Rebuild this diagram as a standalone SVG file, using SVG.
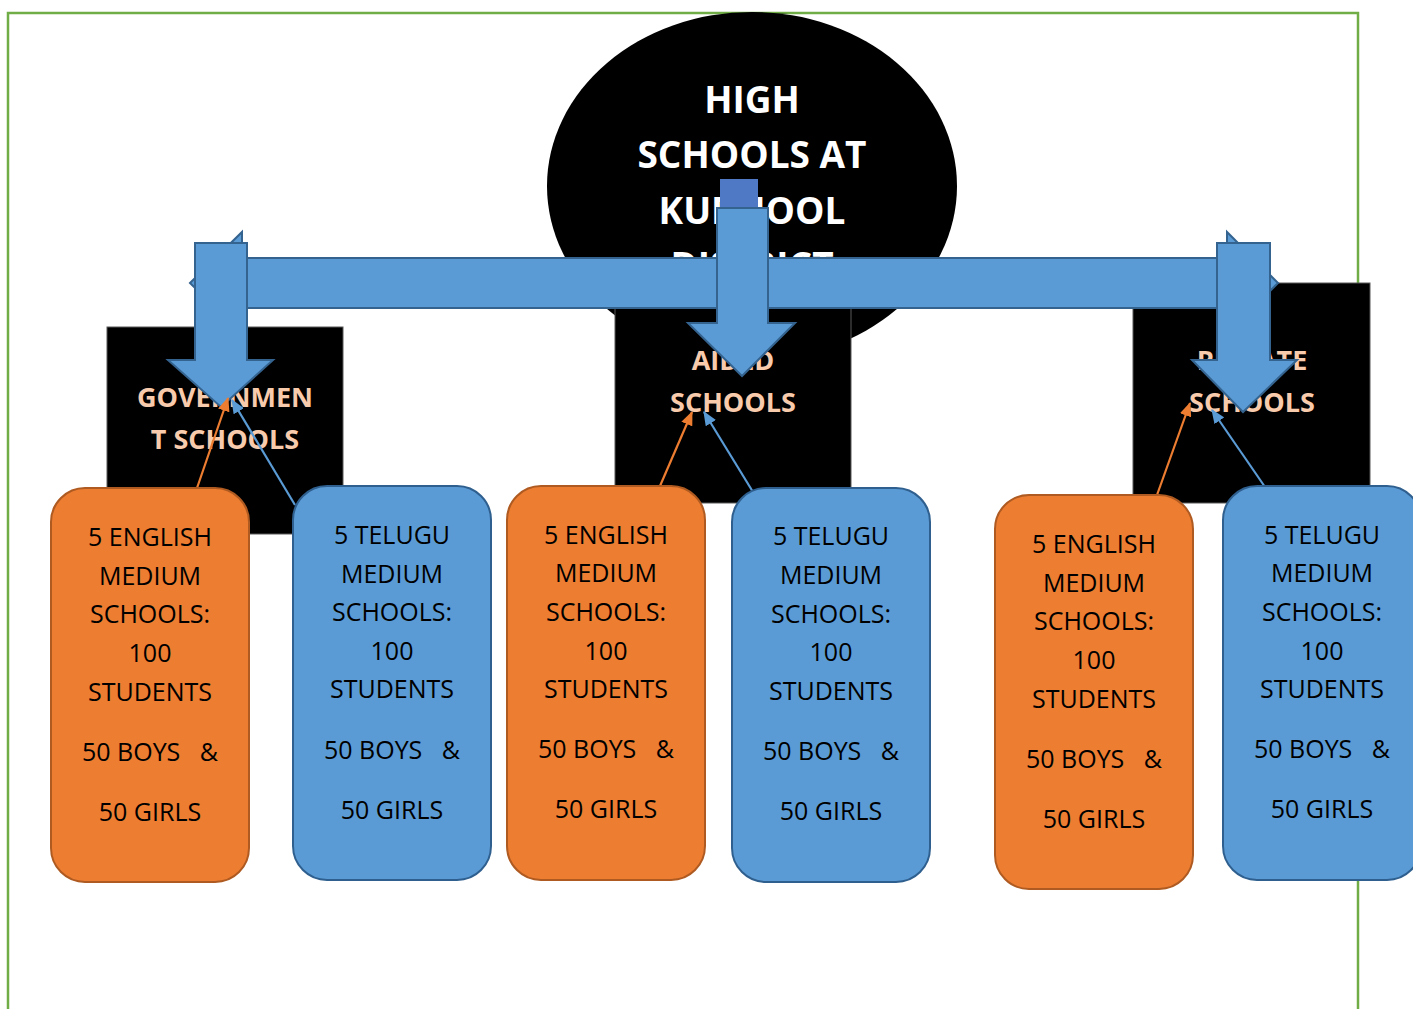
<svg xmlns="http://www.w3.org/2000/svg" width="1413" height="1009" viewBox="0 0 1413 1009">
<style>
.big{fill:#5b9bd5;stroke:#34638f;stroke-width:2;stroke-linejoin:miter}
.blk{fill:#000;stroke:#595959;stroke-width:1}
.cat{font-family:"Open Sans","Liberation Sans",sans-serif;font-weight:bold;font-size:27px;fill:#f8cbad;text-anchor:middle}
.title{font-family:"Open Sans","Liberation Sans",sans-serif;font-weight:bold;font-size:37px;fill:#fff;text-anchor:middle}
.ob{fill:#ed7d31;stroke:#ae5a21;stroke-width:2}
.bb{fill:#5b9bd5;stroke:#2e5f8e;stroke-width:2}
.t{font-family:"Open Sans","Liberation Sans",sans-serif;font-size:25px;fill:#000;text-anchor:middle}
.co{stroke:#ed7d31;stroke-width:2.2;fill:none}
.cb{stroke:#5b9bd5;stroke-width:2.2;fill:none}
</style>
<defs>
<marker id="ao" viewBox="0 0 12 10" refX="11" refY="5" markerWidth="6.5" markerHeight="5.4" orient="auto" markerUnits="strokeWidth"><path d="M0,0 L12,5 L0,10 z" fill="#ed7d31"/></marker>
<marker id="ab" viewBox="0 0 12 10" refX="11" refY="5" markerWidth="6.5" markerHeight="5.4" orient="auto" markerUnits="strokeWidth"><path d="M0,0 L12,5 L0,10 z" fill="#5b9bd5"/></marker>
</defs>
<rect width="1413" height="1009" fill="#fff"/>
<rect x="8" y="13" width="1350" height="1010" fill="none" stroke="#70ad47" stroke-width="2.5"/>

<g id="root">
<ellipse cx="752" cy="186" rx="205" ry="174" fill="#000"/>
<text class="title" x="752" y="113">HIGH</text>
<text class="title" x="752" y="168">SCHOOLS AT</text>
<text class="title" x="752" y="224">KURNOOL</text>
<text class="title" x="752" y="279">DISTRICT</text>
</g>

<g id="government">
<rect class="blk" x="107" y="327" width="236" height="207"/>
<text class="cat" x="225" y="407">GOVERNMEN</text>
<text class="cat" x="225" y="449">T SCHOOLS</text>
</g>
<g id="aided">
<rect class="blk" x="615" y="290" width="236" height="213"/>
<text class="cat" x="733" y="370">AIDED</text>
<text class="cat" x="733" y="412">SCHOOLS</text>
</g>
<g id="private">
<rect class="blk" x="1133" y="283" width="237" height="220"/>
<text class="cat" x="1252" y="370">PRIVATE</text>
<text class="cat" x="1252" y="412">SCHOOLS</text>
</g>

<g id="big-arrows">
<path class="big" d="M190,283 L242,232 L242,258 L1227,258 L1227,232 L1278,283 L1227,334 L1227,308 L242,308 L242,334 Z"/>
<rect x="720" y="179" width="38" height="30" fill="#4f79c4"/>
<path class="big" d="M717,208 L768,208 L768,323 L795,323 L742,376 L688,323 L717,323 Z"/>
<path class="big" d="M195,243 L247,243 L247,360 L273,360 L221,407 L168,360 L195,360 Z"/>
<path class="big" d="M1217,243 L1270,243 L1270,360 L1297,360 L1243,412 L1192,360 L1217,360 Z"/>
</g>

<g id="connectors">
<line class="co" x1="197" y1="488" x2="228" y2="398" marker-end="url(#ao)"/>
<line class="cb" x1="295" y1="505" x2="232" y2="400" marker-end="url(#ab)"/>
<line class="co" x1="660" y1="486" x2="692" y2="412" marker-end="url(#ao)"/>
<line class="cb" x1="753" y1="492" x2="704" y2="412" marker-end="url(#ab)"/>
<line class="co" x1="1157" y1="495" x2="1190" y2="403" marker-end="url(#ao)"/>
<line class="cb" x1="1265" y1="487" x2="1212" y2="410" marker-end="url(#ab)"/>
</g>

<g id="gov-english">
<rect class="ob" x="51" y="488" width="198" height="394" rx="34"/>
<text class="t" x="150" y="546">5 ENGLISH</text>
<text class="t" x="150" y="585">MEDIUM</text>
<text class="t" x="150" y="623">SCHOOLS:</text>
<text class="t" x="150" y="662">100</text>
<text class="t" x="150" y="701">STUDENTS</text>
<text class="t" x="150" y="761" xml:space="preserve">50 BOYS   &amp;</text>
<text class="t" x="150" y="821">50 GIRLS</text>
</g>
<g id="gov-telugu">
<rect class="bb" x="293" y="486" width="198" height="394" rx="34"/>
<text class="t" x="392" y="544">5 TELUGU</text>
<text class="t" x="392" y="583">MEDIUM</text>
<text class="t" x="392" y="621">SCHOOLS:</text>
<text class="t" x="392" y="660">100</text>
<text class="t" x="392" y="698">STUDENTS</text>
<text class="t" x="392" y="759" xml:space="preserve">50 BOYS   &amp;</text>
<text class="t" x="392" y="819">50 GIRLS</text>
</g>
<g id="aided-english">
<rect class="ob" x="507" y="486" width="198" height="394" rx="34"/>
<text class="t" x="606" y="544">5 ENGLISH</text>
<text class="t" x="606" y="582">MEDIUM</text>
<text class="t" x="606" y="621">SCHOOLS:</text>
<text class="t" x="606" y="660">100</text>
<text class="t" x="606" y="698">STUDENTS</text>
<text class="t" x="606" y="758" xml:space="preserve">50 BOYS   &amp;</text>
<text class="t" x="606" y="818">50 GIRLS</text>
</g>
<g id="aided-telugu">
<rect class="bb" x="732" y="488" width="198" height="394" rx="34"/>
<text class="t" x="831" y="545">5 TELUGU</text>
<text class="t" x="831" y="584">MEDIUM</text>
<text class="t" x="831" y="623">SCHOOLS:</text>
<text class="t" x="831" y="661">100</text>
<text class="t" x="831" y="700">STUDENTS</text>
<text class="t" x="831" y="760" xml:space="preserve">50 BOYS   &amp;</text>
<text class="t" x="831" y="820">50 GIRLS</text>
</g>
<g id="private-english">
<rect class="ob" x="995" y="495" width="198" height="394" rx="34"/>
<text class="t" x="1094" y="553">5 ENGLISH</text>
<text class="t" x="1094" y="592">MEDIUM</text>
<text class="t" x="1094" y="630">SCHOOLS:</text>
<text class="t" x="1094" y="669">100</text>
<text class="t" x="1094" y="708">STUDENTS</text>
<text class="t" x="1094" y="768" xml:space="preserve">50 BOYS   &amp;</text>
<text class="t" x="1094" y="828">50 GIRLS</text>
</g>
<g id="private-telugu">
<rect class="bb" x="1223" y="486" width="198" height="394" rx="34"/>
<text class="t" x="1322" y="544">5 TELUGU</text>
<text class="t" x="1322" y="582">MEDIUM</text>
<text class="t" x="1322" y="621">SCHOOLS:</text>
<text class="t" x="1322" y="660">100</text>
<text class="t" x="1322" y="698">STUDENTS</text>
<text class="t" x="1322" y="758" xml:space="preserve">50 BOYS   &amp;</text>
<text class="t" x="1322" y="818">50 GIRLS</text>
</g>
</svg>
